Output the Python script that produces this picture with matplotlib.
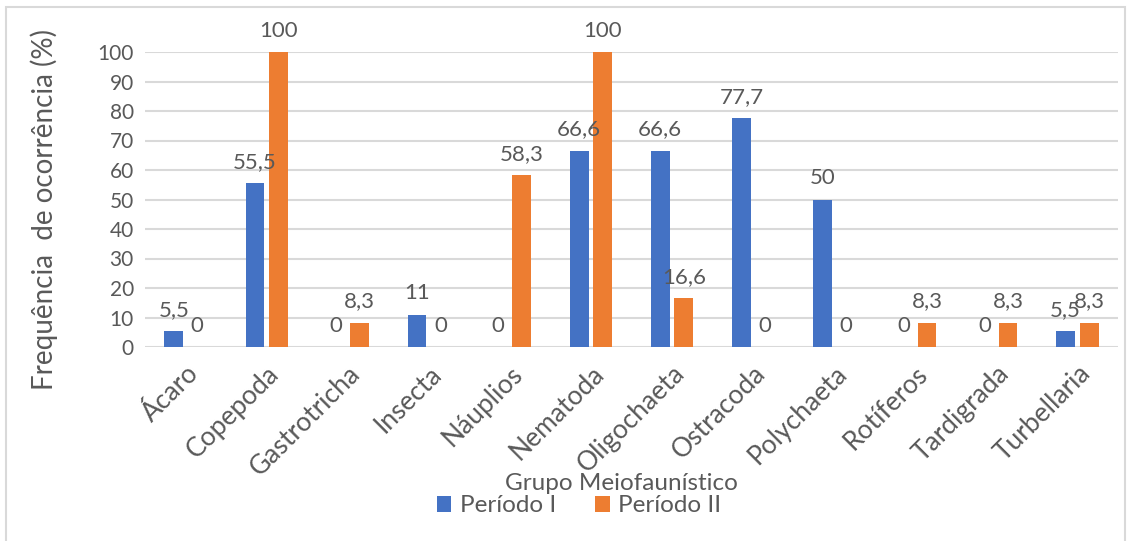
import numpy as np
import matplotlib.pyplot as plt
from matplotlib.patches import Rectangle

grupos = ["Ácaro", "Copepoda", "Gastrotricha", "Insecta", "Náuplios", "Nematoda",
          "Oligochaeta", "Ostracoda", "Polychaeta", "Rotíferos", "Tardigrada", "Turbellaria"]
periodo_1 = [5.5, 55.5, 0, 11, 0, 66.6, 66.6, 77.7, 50, 0, 0, 5.5]
periodo_2 = [0, 100, 8.3, 0, 58.3, 100, 16.6, 0, 0, 8.3, 8.3, 8.3]

AZUL = "#4472C4"
LARANJA = "#ED7D31"
TEXTO = "#595959"
GRADE = "#D9D9D9"

plt.rcParams["font.family"] = ["Lato", "DejaVu Sans"]


def rotulo(v):
    return f"{v:g}".replace(".", ",")


fig = plt.figure(figsize=(11.32, 5.41), dpi=100)
ax = fig.add_axes([145 / 1132, 1 - 347 / 541, (1118 - 145) / 1132, (347 - 52) / 541])

x = np.arange(len(grupos))
larg = 0.23
desl = 0.145
b1 = ax.bar(x - desl, periodo_1, larg, color=AZUL, label="Período I", zorder=3)
b2 = ax.bar(x + desl, periodo_2, larg, color=LARANJA, label="Período II", zorder=3)

for barras, vals in ((b1, periodo_1), (b2, periodo_2)):
    for b, v in zip(barras, vals):
        ax.annotate(rotulo(v), (b.get_x() + b.get_width() / 2, v),
                    xytext=(0, 8), textcoords="offset points",
                    ha="center", va="bottom", fontsize=16, color=TEXTO, zorder=4)

ax.set_xlim(-0.5, len(grupos) - 0.5)
ax.set_ylim(0, 100)
ax.set_yticks(range(0, 101, 10))
ax.yaxis.grid(True, color=GRADE, linewidth=1.5, zorder=0)
ax.set_axisbelow(True)
for s in ax.spines.values():
    s.set_visible(False)
ax.tick_params(axis="both", length=0, colors=TEXTO, labelsize=15)
ax.tick_params(axis="y", pad=8)
ax.set_xticks(x)
ax.set_xticklabels(grupos, rotation=45, ha="right", rotation_mode="anchor", fontsize=19)
ax.tick_params(axis="x", pad=10)

fig.text(44 / 1132, 1 - 210 / 541, "Frequência  de ocorrência (%)", rotation=90,
         ha="center", va="center", fontsize=20, color=TEXTO)
fig.text(621 / 1132, 1 - 484 / 541, "Grupo Meiofaunístico", ha="center", va="center",
         fontsize=17.5, color=TEXTO)
leg = fig.legend(handles=[b1, b2], loc="center", bbox_to_anchor=(579 / 1132, 1 - 506 / 541),
                 ncol=2, frameon=False, fontsize=17.5, handlelength=0.6, handleheight=0.6,
                 handletextpad=0.35, columnspacing=1.6, borderpad=0)
for t in leg.get_texts():
    t.set_color(TEXTO)

fig.patches.append(Rectangle((6 / 1132, -0.02), 1119 / 1132, 1.02 - 7 / 541,
                             transform=fig.transFigure, fill=False,
                             edgecolor=GRADE, linewidth=1.5))

fig.savefig("out.png", dpi=100)
